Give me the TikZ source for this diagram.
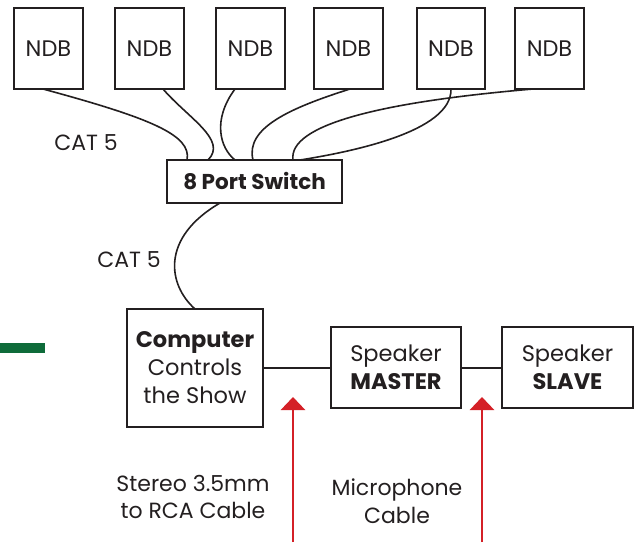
\documentclass[tikz,border=0pt]{standalone}
\usepackage{fontspec}
\setmainfont{Poppins}
\usetikzlibrary{arrows.meta}
\definecolor{ink}{HTML}{231F20}
\definecolor{redarrow}{HTML}{D42027}
\definecolor{greenbar}{HTML}{0E6B3A}
\tikzset{
  box/.style={draw=ink, line width=1.8pt, inner sep=0pt, text=ink, align=center, font=\fontsize{22.5}{28}\selectfont},
  cable/.style={draw=ink, line width=1.6pt},
  lbl/.style={text=ink, align=center, font=\fontsize{22}{27.5}\selectfont, inner sep=0pt},
  feed/.style={draw=redarrow, line width=2.8pt, -{Triangle[width=24pt,length=13pt]}}
}
\begin{document}
\begin{tikzpicture}[x=1pt,y=-1pt]
\useasboundingbox (0,0) rectangle (639,542);
% NDB boxes
\foreach \i/\xa/\xb in {1/14/83, 2/115/184, 3/216/285, 4/314/383, 5/417/485, 6/515/584}{
  \node[box, minimum width={\xb-\xa}, minimum height=81] (n\i) at ({(\xa+\xb)/2},48.5) {NDB};
}
\node[box, minimum width=175, minimum height=43, font=\fontsize{21.5}{24}\bfseries\selectfont] (sw) at (254.5,181.5) {8 Port Switch};
\node[box, minimum width=136, minimum height=118] (pc) at (195,368) {\textbf{Computer}\\Controls\\the Show};
\node[box, minimum width=130, minimum height=81] (sm) at (396,367.5) {Speaker\\\textbf{MASTER}};
\node[box, minimum width=131, minimum height=81] (ss) at (567.5,367.5) {Speaker\\\textbf{SLAVE}};
% labels
\node[lbl] (c1) at (86,143) {CAT 5};
\node[lbl] (c2) at (129,260) {CAT 5};
\node[lbl] (st) at (193,497) {Stereo 3.5mm\\to RCA Cable};
\node[lbl] (mic) at (397,501) {Microphone\\Cable};
% coordinates on switch top
\coordinate (p1) at (187,160);
\coordinate (p2) at (208,160);
\coordinate (p3) at (235,160);
\coordinate (p4) at (253,160);
\coordinate (p5) at (300,160);
\coordinate (p6) at (293,160);
% cables NDB -> switch
\draw[cable] (43,89) .. controls (150,118) and (192,135) .. (p1);
\draw[cable] (163,89) .. controls (188,118) and (228,140) .. (p2);
\draw[cable] (235,89) .. controls (212,120) and (220,148) .. (p3);
\draw[cable] (350,89) .. controls (290,108) and (245,128) .. (p4);
\draw[cable] (451,89) .. controls (452,132) and (350,152) .. (p5);
\draw[cable] (533,89) .. controls (380,102) and (288,125) .. (p6);
% switch -> computer
\draw[cable] (220,203) .. controls (160,238) and (168,285) .. (195,309);
% audio chain
\draw[cable] (pc.east |- 0,368) -- (sm.west |- 0,368);
\draw[cable] (sm.east |- 0,368) -- (ss.west |- 0,368);
% red arrows
\coordinate (a1) at (293,542);
\coordinate (a2) at (482,542);
\draw[feed] (a1) -- (293,397);
\draw[feed] (a2) -- (482,397);
% green bar
\fill[greenbar] (0,343) rectangle (45,353);
\end{tikzpicture}
\end{document}
